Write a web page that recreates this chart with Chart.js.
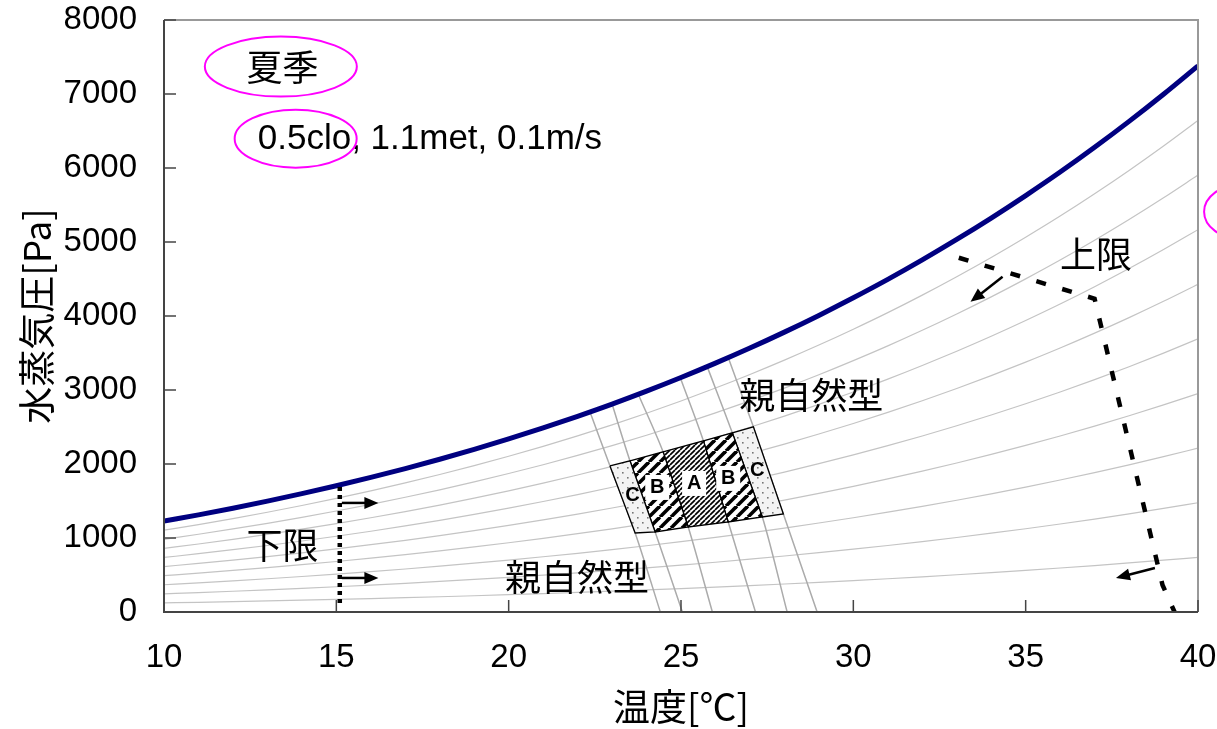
<!DOCTYPE html>
<html>
<head>
<meta charset="utf-8">
<script src="https://cdn.jsdelivr.net/npm/chart.js@4"></script>
<style>
body { margin: 0; background: #fff; }
</style>
</head>
<body>
<canvas id="psyChart" width="1217" height="729"></canvas>
<script>

// temperature [C] and saturation vapour pressure [Pa]
const temps = [10,11,12,13,14,15,16,17,18,19,20,21,22,23,24,25,26,27,28,29,30,31,32,33,34,35,36,37,38,39,40];
const satPressure = [1228,1313,1403,1498,1599,1706,1819,1938,2064,2198,2339,2488,2645,2810,2985,3169,3363,3567,3782,4008,4246,4495,4758,5034,5323,5627,5945,6280,6630,6997,7381];

// relative humidity curves (%)
const rhLevels = [10,20,30,40,50,60,70,80,90];

// nearly vertical grey lines, [temperature, pressure]
const setLines = [
    [[22.36,2704],[22.94,1974],[23.67,1068],[24.40,0]],
    [[23.00,2810],[23.52,2042],[24.25,1082],[25.04,0]],
    [[23.76,2943],[24.48,2164],[25.21,1149],[25.91,0]],
    [[24.98,3165],[25.65,2312],[26.37,1217],[27.16,0]],
    [[25.76,3316],[26.49,2421],[27.36,1285],[28.08,0]],
    [[26.37,3438],[27.10,2502],[27.97,1325],[28.95,0]]
];

// comfort zones between neighbouring lines
const zoneLabels = ['C','B','A','B','C'];
const zoneLabelT = [23.59,24.31,25.38,26.37,27.21];
const zoneLabelP = [1582,1690,1744,1812,1920];

// lower and upper limit lines
const lowerLimitT = [15.1,15.1];
const lowerLimitP = [1690,122];
const upperLimitT = [33.06,37.00,38.97,39.32];
const upperLimitP = [4787,4233,365,0];

const arrows = [
    {from:[15.16,1474], to:[16.22,1474]},
    {from:[15.16,460], to:[16.22,460]},
    {from:[34.33,4530], to:[33.40,4192]},
    {from:[38.75,595], to:[37.62,460]}
];

const notes = [
    {text:'夏季', t:13.44, p:7356, align:'center'},
    {text:'0.5clo, 1.1met, 0.1m/s', t:12.72, p:6383, align:'left', latin:true},
    {text:'上限', t:37.04, p:4828, align:'center'},
    {text:'親自然型', t:28.78, p:2934, align:'center'},
    {text:'親自然型', t:21.98, p:473, align:'center'},
    {text:'下限', t:13.44, p:906, align:'center'}
];

const rings = [
    {t:13.39, p:7370, rx:76, ry:30},
    {t:13.82, p:6396, rx:61, ry:29},
    {t:41.25, p:5409, rx:37, ry:27}
];

const JP = '"Noto Sans CJK JP", "Noto Sans", sans-serif';
const LAT = '"Liberation Sans", Arial, sans-serif';

function makePattern(kind){
    let c = document.createElement('canvas');
    let g = c.getContext('2d');
    let s = kind === 'A' ? 5 : (kind === 'B' ? 11 : 10);
    c.width = s; c.height = s;
    if(kind === 'C'){
        g.fillStyle = '#f3f3f3';
        g.fillRect(0,0,s,s);
        g.fillStyle = '#777';
        g.fillRect(2,2,1.6,1.6);
        g.fillRect(7,7,1.6,1.6);
    } else {
        g.fillStyle = '#fff';
        g.fillRect(0,0,s,s);
        g.strokeStyle = '#000';
        g.lineWidth = kind === 'A' ? 1.7 : 3.6;
        for(let k = -1; k <= 1; k++){
            g.beginPath();
            g.moveTo(k*s, s);
            g.lineTo(k*s + s, 0);
            g.stroke();
        }
    }
    return g.createPattern(c, 'repeat');
}

const patterns = {A: makePattern('A'), B: makePattern('B'), C: makePattern('C')};

let datasets = [];

rhLevels.forEach(rh => {
    datasets.push({
        data: temps.map((t,i) => ({x:t, y:satPressure[i]*rh/100})),
        borderColor: '#c4c4c4', borderWidth: 1.2, pointRadius: 0,
        cubicInterpolationMode: 'monotone', order: 10
    });
});

setLines.forEach(line => {
    datasets.push({
        data: line.map(pt => ({x:pt[0], y:pt[1]})),
        borderColor: '#ababab', borderWidth: 1.5, pointRadius: 0,
        tension: 0.3, order: 9
    });
});

zoneLabels.forEach((lab,i) => {
    let a = setLines[i], b = setLines[i+1];
    let poly = [a[1], b[1], b[2], a[2], a[1]];
    datasets.push({
        data: poly.map(pt => ({x:pt[0], y:pt[1]})),
        borderColor: '#000', borderWidth: 1.3, pointRadius: 0,
        fill: 'shape', backgroundColor: patterns[lab], order: 5
    });
});

datasets.push({
    data: temps.map((t,i) => ({x:t, y:satPressure[i]})),
    borderColor: '#000080', borderWidth: 5, pointRadius: 0,
    cubicInterpolationMode: 'monotone', order: 4
});

datasets.push({
    data: lowerLimitT.map((t,i) => ({x:t, y:lowerLimitP[i]})),
    borderColor: '#000', borderWidth: 4.5, borderDash: [4,4], pointRadius: 0, order: 3
});

datasets.push({
    data: upperLimitT.map((t,i) => ({x:t, y:upperLimitP[i]})),
    borderColor: '#000', borderWidth: 4.5, borderDash: [10,17], pointRadius: 0, order: 3
});

function drawArrow(ctx, x1, y1, x2, y2){
    let ang = Math.atan2(y2-y1, x2-x1);
    let hl = 14, hw = 6;
    ctx.beginPath();
    ctx.moveTo(x1, y1);
    ctx.lineTo(x2 - hl*0.8*Math.cos(ang), y2 - hl*0.8*Math.sin(ang));
    ctx.stroke();
    ctx.beginPath();
    ctx.moveTo(x2, y2);
    ctx.lineTo(x2 - hl*Math.cos(ang) + hw*Math.sin(ang), y2 - hl*Math.sin(ang) - hw*Math.cos(ang));
    ctx.lineTo(x2 - hl*Math.cos(ang) - hw*Math.sin(ang), y2 - hl*Math.sin(ang) + hw*Math.cos(ang));
    ctx.closePath();
    ctx.fill();
}

const overlay = {
    id: 'overlay',
    afterDatasetsDraw(chart){
        const {ctx, scales: {x, y}} = chart;
        ctx.save();
        ctx.font = 'bold 20px ' + LAT;
        ctx.textAlign = 'center';
        ctx.textBaseline = 'middle';
        zoneLabels.forEach((lab,i) => {
            let px = x.getPixelForValue(zoneLabelT[i]);
            let py = y.getPixelForValue(zoneLabelP[i]);
            if(lab !== 'C'){
                ctx.fillStyle = '#fff';
                ctx.fillRect(px-12, py-12, 24, 25);
            }
            ctx.fillStyle = '#000';
            ctx.fillText(lab, px, py+1);
        });
        ctx.restore();
    },
    afterDraw(chart){
        const {ctx, chartArea: a, scales: {x, y}} = chart;
        ctx.save();

        // frame
        ctx.lineWidth = 2;
        ctx.strokeStyle = '#999';
        ctx.beginPath();
        ctx.moveTo(a.left, a.top);
        ctx.lineTo(a.right, a.top);
        ctx.lineTo(a.right, a.bottom);
        ctx.stroke();
        ctx.strokeStyle = '#444';
        ctx.beginPath();
        ctx.moveTo(a.left, a.top);
        ctx.lineTo(a.left, a.bottom);
        ctx.lineTo(a.right, a.bottom);
        ctx.stroke();

        // inward ticks
        ctx.lineWidth = 1.5;
        y.ticks.forEach(tk => {
            let py = y.getPixelForValue(tk.value);
            ctx.beginPath();
            ctx.moveTo(a.left, py);
            ctx.lineTo(a.left + 12, py);
            ctx.stroke();
        });
        x.ticks.forEach(tk => {
            let px = x.getPixelForValue(tk.value);
            ctx.beginPath();
            ctx.moveTo(px, a.bottom);
            ctx.lineTo(px, a.bottom - 12);
            ctx.stroke();
        });

        // arrows
        ctx.strokeStyle = '#000';
        ctx.fillStyle = '#000';
        ctx.lineWidth = 2.5;
        arrows.forEach(ar => {
            drawArrow(ctx,
                x.getPixelForValue(ar.from[0]), y.getPixelForValue(ar.from[1]),
                x.getPixelForValue(ar.to[0]), y.getPixelForValue(ar.to[1]));
        });

        // notes
        ctx.textBaseline = 'middle';
        notes.forEach(n => {
            ctx.font = n.latin ? '35px ' + LAT : '36px ' + JP;
            ctx.textAlign = n.align;
            ctx.fillText(n.text, x.getPixelForValue(n.t), y.getPixelForValue(n.p));
        });

        // pink rings
        ctx.strokeStyle = '#ff00ff';
        ctx.lineWidth = 2;
        rings.forEach(r => {
            ctx.beginPath();
            ctx.ellipse(x.getPixelForValue(r.t), y.getPixelForValue(r.p), r.rx, r.ry, 0, 0, Math.PI*2);
            ctx.stroke();
        });

        ctx.restore();
    }
};

new Chart(document.getElementById('psyChart'), {
    type: 'line',
    data: { datasets: datasets },
    options: {
        responsive: false,
        animation: false,
        layout: { padding: { top: 20, right: 19, left: 0, bottom: 0 } },
        plugins: { legend: { display: false }, tooltip: { enabled: false } },
        scales: {
            x: {
                type: 'linear', min: 10, max: 40,
                afterFit: s => { s.height = 117; s.paddingLeft = 0; s.paddingRight = 0; },
                ticks: { stepSize: 5, padding: 26, color: '#000', font: { family: LAT, size: 33 },
                         callback: v => String(v) },
                grid: { display: false, drawTicks: false },
                border: { display: false },
                title: { display: true, text: '温度[℃]', color: '#000', font: { family: JP, size: 37 }, padding: { top: 0, bottom: 0 } }
            },
            y: {
                min: 0, max: 8000,
                afterFit: s => { s.width = 164; s.paddingTop = 0; s.paddingBottom = 0; },
                ticks: { stepSize: 1000, padding: 27, color: '#000', font: { family: LAT, size: 33 },
                         callback: v => String(v) },
                grid: { display: false, drawTicks: false },
                border: { display: false },
                title: { display: true, text: '水蒸気圧[Pa]', color: '#000', font: { family: JP, size: 37 }, padding: { top: 15, bottom: 0 } }
            }
        }
    },
    plugins: [overlay]
});

</script>
</body>
</html>
